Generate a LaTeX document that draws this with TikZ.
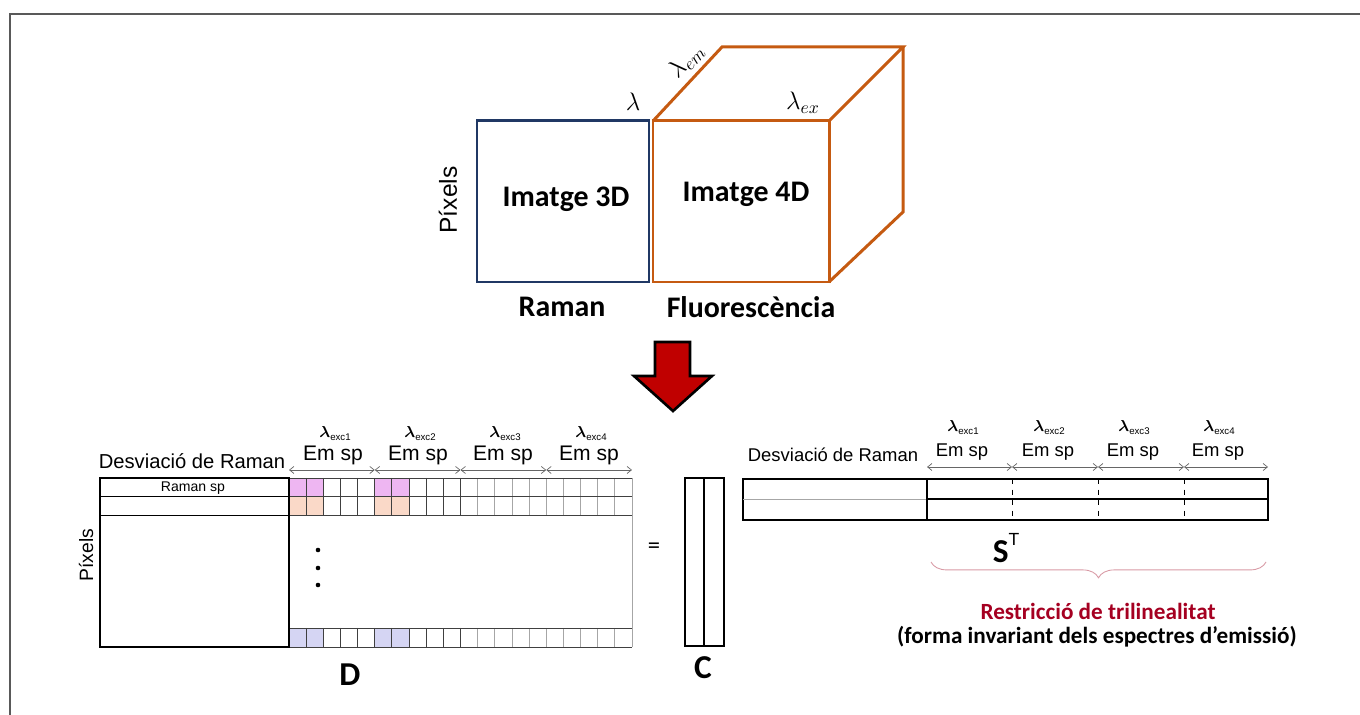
\documentclass[tikz,border=0pt]{standalone}
\usepackage{fontspec}
\setmainfont{Carlito}
\newfontfamily\arialfont{Liberation Sans}
\usepackage{amsmath}
\usetikzlibrary{arrows.meta,decorations.pathreplacing}

\definecolor{ramanblue}{HTML}{203864}
\definecolor{fluoorange}{HTML}{C55A11}
\definecolor{arrowred}{HTML}{C00000}
\definecolor{restrred}{HTML}{A50021}
\definecolor{cellviolet}{HTML}{EEB6F2}
\definecolor{cellpeach}{HTML}{FAD9C8}
\definecolor{celllav}{HTML}{D5D5F3}
\definecolor{bracepink}{HTML}{D89AA5}

\newcommand{\lexc}[1]{{\boldmath$\lambda$}\raisebox{-0.35ex}{\fontsize{5.5}{6}\selectfont exc#1}}

\begin{document}
\begin{tikzpicture}[x=0.02cm,y=-0.02cm,
    raman/.style={draw=ramanblue, line width=1.7pt},
    fluo/.style={draw=fluoorange, line width=1.7pt, line join=miter},
    bigtxt/.style={font=\fontsize{17}{20}\selectfont\bfseries},
    lettertxt/.style={font=\fontsize{19}{22}\selectfont\bfseries},
    arialtxt/.style={font=\arialfont\fontsize{12}{14}\selectfont},
    smalltxt/.style={font=\arialfont\fontsize{10.5}{12}\selectfont},
    lamtxt/.style={font=\arialfont\fontsize{9}{10}\selectfont},
    gridline/.style={draw=black!75, line width=0.5pt},
    softline/.style={draw=black!35, line width=0.5pt},
    span/.style={<->, >={Straight Barb[length=2.5pt,width=4pt]}, draw=black!60, line width=0.4pt}
]

\useasboundingbox (0,0) rectangle (1360,715);
\draw[black!65, line width=0.8pt] (10,715) |- (1360,14);

% cube
\coordinate (f1) at (653,121);
\coordinate (f2) at (829,121);
\coordinate (f3) at (829,282);
\coordinate (b1) at (722,47);
\coordinate (b2) at (903,47);
\coordinate (b3) at (903,212);
\draw[fluo] (f1) rectangle (f3);
\draw[fluo] (f1) -- (b1) -- (b2) -- (f2);
\draw[fluo] (b2) -- (b3) -- (f3);
\draw[raman] (477,121) rectangle (649,282);

\node (lam) at (633,102) {\fontsize{14}{16}\selectfont$\lambda$};
\node[rotate=46, anchor=south, inner sep=1.5pt] (lamem) at (696,70) {\fontsize{14}{16}\selectfont$\lambda_{em}$};
\node (lamex) at (803,103) {\fontsize{14}{16}\selectfont$\lambda_{ex}$};
\node[rotate=90, font=\arialfont\fontsize{14}{16}\selectfont] (pix3d) at (448,200) {Píxels};
\node[bigtxt] (im3d) at (566,199) {Imatge 3D};
\node[bigtxt] (im4d) at (746,194) {Imatge 4D};
\node[bigtxt] (raman) at (562,307) {Raman};
\node[bigtxt] (fluor) at (751,307) {Fluorescència};

% arrow
\draw[fill=arrowred, line width=1.5pt, line join=miter]
  (655,342) -- (690,342) -- (690,376) -- (712,376) -- (673,411)
  -- (634,376) -- (655,376) -- cycle;

% matrix D
\def\cw{17.15}
\foreach \i in {0,1,5,6} {
  \fill[cellviolet] ({289+\i*\cw},478) rectangle ++(\cw,18);
  \fill[cellpeach] ({289+\i*\cw},496) rectangle ++(\cw,19);
  \fill[celllav] ({289+\i*\cw},628) rectangle ++(\cw,19);
}
\foreach \i in {1,...,10} {
  \draw[gridline] ({289+\i*\cw},478) -- ({289+\i*\cw},515);
  \draw[gridline] ({289+\i*\cw},628) -- ({289+\i*\cw},647);
}
\foreach \i in {11,...,19} {
  \draw[softline] ({289+\i*\cw},478) -- ({289+\i*\cw},515);
  \draw[softline] ({289+\i*\cw},628) -- ({289+\i*\cw},647);
}
\draw[gridline] (289,478) -- (632,478) (289,496) -- (632,496) (289,515) -- (632,515)
  (289,628) -- (632,628) (289,647) -- (632,647);
\draw[softline] (632,478) -- (632,647);
\draw[line width=0.6pt] (100,478) rectangle (289,647);
\draw[line width=0.5pt] (100,496) -- (289,496) (100,515) -- (289,515);
\draw[line width=1pt] (289,478) -- (289,647);
\foreach \y in {550,568,585} \fill (318,\y) circle (2.3);

\foreach \k in {0,...,4} \coordinate (dg\k) at ({289+\k*5*\cw},470);
\foreach \k [evaluate=\k as \j using int(\k+1)] in {0,...,3}
  \draw[span] (dg\k) -- (dg\j);
\foreach \x/\n in {335/1,420/2,505/3,591/4} {
  \node[lamtxt] (dlam\n) at (\x,434) {\lexc{\n}};
  \node[arialtxt] (dem\n) at ({\x-2},455) {Em sp};
}
\node[arialtxt, font=\arialfont\fontsize{11.5}{13}\selectfont] (ddesv) at (192,461) {Desviació de Raman};
\node[font=\arialfont\fontsize{8}{9}\selectfont] (rsp) at (193,488) {Raman sp};
\node[rotate=90, font=\arialfont\fontsize{11}{13}\selectfont] (pixd) at (86,555) {Píxels};
\node[lettertxt] (dlab) at (350,675) {D};

% equals and C
\node[font=\fontsize{14}{16}\selectfont] (eq) at (654,548) {=};
\draw[line width=0.6pt] (685,478) rectangle (724,646);
\draw[line width=0.6pt] (704,478) -- (704,646);
\node[lettertxt] (clab) at (703,668) {C};

% matrix S^T
\draw[line width=0.6pt] (743,479) rectangle (927,520);
\draw[black!35, line width=0.5pt] (743,499) -- (927,499);
\foreach \x in {1012,1098,1184}
  \draw[dashed, line width=0.5pt] (\x,479) -- (\x,520);
\draw[line width=1.3pt] (927,479) rectangle (1268,520);
\draw[line width=1.3pt] (927,499) -- (1268,499);

\foreach \x [count=\k from 0] in {927,1012,1098,1184,1268} \coordinate (sg\k) at (\x,467);
\foreach \k [evaluate=\k as \j using int(\k+1)] in {0,...,3}
  \draw[span] (sg\k) -- (sg\j);
\foreach \x/\n in {963/1,1049/2,1134/3,1219/4} {
  \node[lamtxt] (slam\n) at (\x,428) {\lexc{\n}};
  \node[smalltxt] (sem\n) at ({\x-1},452) {Em sp};
}
\node[smalltxt] (sdesv) at (833,455) {Desviació de Raman};
\node[lettertxt] (slab) at (1006,548) {S\raisebox{1.1ex}{\arialfont\fontsize{10}{11}\mdseries T}};

\draw[bracepink, line width=0.5pt, decorate, decoration={brace, mirror, amplitude=9pt}]
  (931,562) -- (1266,562);
\node[font=\fontsize{13.2}{16}\selectfont\bfseries, text=restrred] (restr) at (1098,611) {Restricció de trilinealitat};
\node[font=\fontsize{13.2}{16}\selectfont\bfseries] (forma) at (1097,637) {(forma invariant dels espectres d’emissió)};

\end{tikzpicture}
\end{document}
